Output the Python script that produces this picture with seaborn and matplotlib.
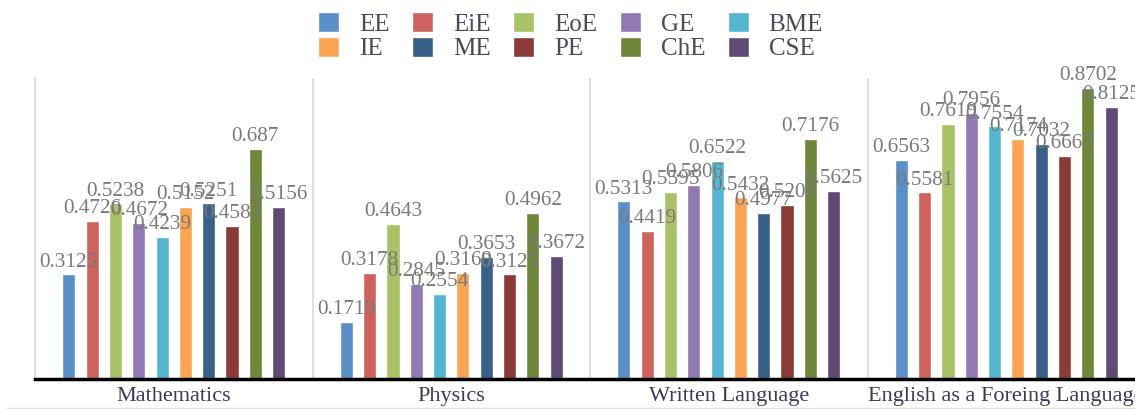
import pandas as pd
import seaborn as sns
import matplotlib.pyplot as plt
from matplotlib.lines import Line2D

# subjects on the x axis and the ten majors drawn as hue
subjects = ['Mathematics', 'Physics', 'Written Language', 'English as a Foreing Language']
majors = ['EE', 'EiE', 'EoE', 'GE', 'BME', 'IE', 'ME', 'PE', 'ChE', 'CSE']

# values per major, one entry per subject
ee = [0.3125, 0.1719, 0.5313, 0.6563]
eie = [0.4726, 0.3178, 0.4419, 0.5581]
eoe = [0.5238, 0.4643, 0.5595, 0.7619]
ge = [0.4672, 0.2845, 0.5806, 0.7956]
bme = [0.4239, 0.2554, 0.6522, 0.7554]
ie = [0.5152, 0.3169, 0.5432, 0.7174]
me = [0.5251, 0.3653, 0.4977, 0.7032]
pe = [0.4583, 0.3125, 0.5208, 0.6667]
che = [0.687, 0.4962, 0.7176, 0.8702]
cse = [0.5156, 0.3672, 0.5625, 0.8125]

colors = ['#5B8FC8', '#CF625C', '#A9C267', '#9179B3', '#57B6CF',
          '#F9A553', '#386089', '#8B3B37', '#6F863A', '#5E4A74']

values = [ee, eie, eoe, ge, bme, ie, me, pe, che, cse]
rows = []
for m, vals in zip(majors, values):
    for s, v in zip(subjects, vals):
        rows.append({'subject': s, 'major': m, 'value': v})
df = pd.DataFrame(rows)

sns.set_style('white')
plt.rcParams['font.family'] = ['Liberation Serif', 'DejaVu Serif']

fig = plt.figure(figsize=(11.35, 4.09), dpi=100)
ax = fig.add_axes([35 / 1135, 30 / 409, 1110 / 1135, 301 / 409])

sns.barplot(data=df, x='subject', y='value', hue='major', order=subjects,
            hue_order=majors, palette=dict(zip(majors, colors)),
            width=0.84, gap=0.44, saturation=1, ax=ax, legend=True)

for cont, vals in zip(ax.containers, values):
    ax.bar_label(cont, labels=['{:g}'.format(v) for v in vals], padding=2,
                 fontsize=15.3, color='#7a7a7a')

ax.set_xlim(-0.5, 3.5)
ax.set_ylim(0, 0.9)
ax.set_xlabel('')
ax.set_ylabel('')
ax.set_yticks([])
ax.tick_params(axis='x', length=0, pad=6, labelsize=16, labelcolor='#3c3c5a')

# group separators
for xs in [0.5, 1.5, 2.5]:
    ax.axvline(xs, color='#d9d9d9', lw=1.2, zorder=0)
ax.spines['left'].set_color('#d9d9d9')
ax.spines['left'].set_linewidth(1.2)
ax.spines['top'].set_visible(False)
ax.spines['right'].set_visible(False)
ax.spines['bottom'].set_color('black')
ax.spines['bottom'].set_linewidth(2.5)

# legend is filled row by row in the reference: reorder for matplotlib's column fill
handles, labels = ax.get_legend_handles_labels()
order = []
for c in range(5):
    order += [c, c + 5]
ax.legend([handles[i] for i in order], [labels[i] for i in order],
          loc='upper left', bbox_to_anchor=(318 / 1135, 1 - 12 / 409),
          bbox_transform=fig.transFigure, ncol=5, frameon=False, fontsize=18,
          handlelength=0.84, handleheight=0.84, handletextpad=0.8,
          columnspacing=0.9, labelspacing=0.05, borderpad=0, borderaxespad=0,
          labelcolor='#4a4a5a')

fig.add_artist(Line2D([0.006, 1.0], [1.5 / 409, 1.5 / 409], color='#e0e0e0', lw=1))

fig.savefig('out.png', dpi=100)
